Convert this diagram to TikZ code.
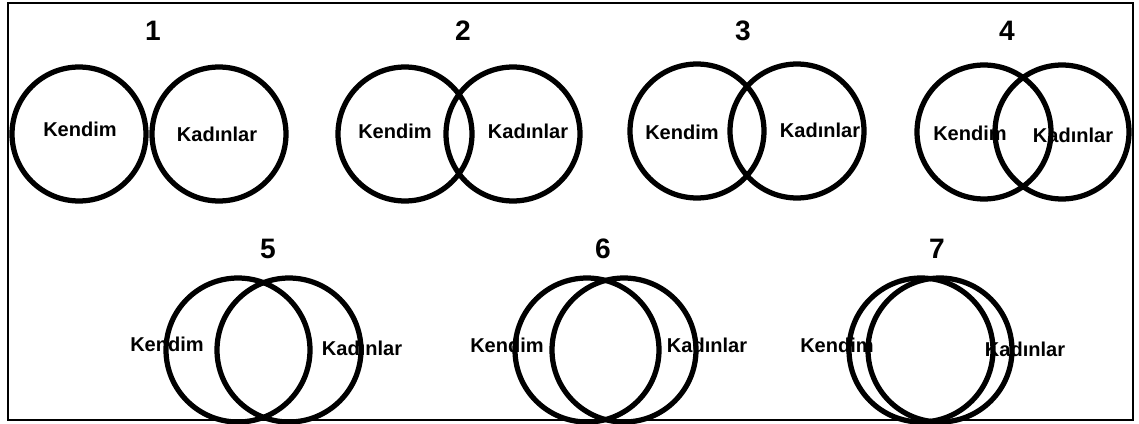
\documentclass[tikz,border=0pt]{standalone}
\usepackage{fontspec}
\setmainfont{Liberation Sans}
\usepackage{tikz}
\usetikzlibrary{positioning}

\begin{document}
\begin{tikzpicture}[x=0.02cm, y=-0.02cm,
          ring/.style={circle, draw=black, line width=0.105cm, inner sep=0pt},
          small/.style={ring, minimum size=2.68cm},
          big/.style={ring, minimum size=2.88cm},
          lbl/.style={font=\fontsize{11.4}{13}\selectfont\bfseries, inner sep=0pt},
          num/.style={font=\fontsize{16}{19}\selectfont\bfseries, inner sep=0pt},
          frame/.style={draw=black, line width=0.85pt}
        ]
        \useasboundingbox (0,0) rectangle (1139,423);
        \draw[frame] (8,3) rectangle (1133,420);

        % Set 1
        \node[num] (n1) at (153, 31) {1};
        \node[lbl] (ken1) at (80, 129) {Kendim};
        \node[lbl] (kad1) at (217, 134) {Kadınlar};
        \node[small] (c1a) at (79, 134) {};
        \node[small] (c1b) at (219, 134) {};

        % Set 2
        \node[num] (n2) at (463, 31) {2};
        \node[lbl] (ken2) at (395, 131) {Kendim};
        \node[lbl] (kad2) at (528, 131) {Kadınlar};
        \node[small] (c2a) at (405, 134) {};
        \node[small] (c2b) at (513, 134) {};

        % Set 3
        \node[num] (n3) at (743, 31) {3};
        \node[lbl] (ken3) at (682, 132) {Kendim};
        \node[lbl] (kad3) at (820, 130) {Kadınlar};
        \node[small] (c3a) at (697, 131) {};
        \node[small] (c3b) at (797, 131) {};

        % Set 4
        \node[num] (n4) at (1007, 31) {4};
        \node[lbl] (ken4) at (970, 133) {Kendim};
        \node[lbl] (kad4) at (1073, 135) {Kadınlar};
        \node[small] (c4a) at (984, 132) {};
        \node[small] (c4b) at (1062, 132) {};

        % Set 5
        \node[num] (n5) at (268, 249) {5};
        \node[lbl] (ken5) at (167, 344) {Kendim};
        \node[lbl] (kad5) at (362, 348) {Kadınlar};
        \node[big] (c5a) at (238, 350) {};
        \node[big] (c5b) at (289, 350) {};

        % Set 6
        \node[num] (n6) at (603, 249) {6};
        \node[lbl] (ken6) at (507, 345) {Kendim};
        \node[lbl] (kad6) at (707, 345) {Kadınlar};
        \node[big] (c6a) at (587, 350) {};
        \node[big] (c6b) at (624, 350) {};

        % Set 7
        \node[num] (n7) at (937, 249) {7};
        \node[lbl] (ken7) at (837, 345) {Kendim};
        \node[lbl] (kad7) at (1025, 349) {Kadınlar};
        \node[big] (c7a) at (921, 350) {};
        \node[big] (c7b) at (940, 350) {};
      \end{tikzpicture}
\end{document}
